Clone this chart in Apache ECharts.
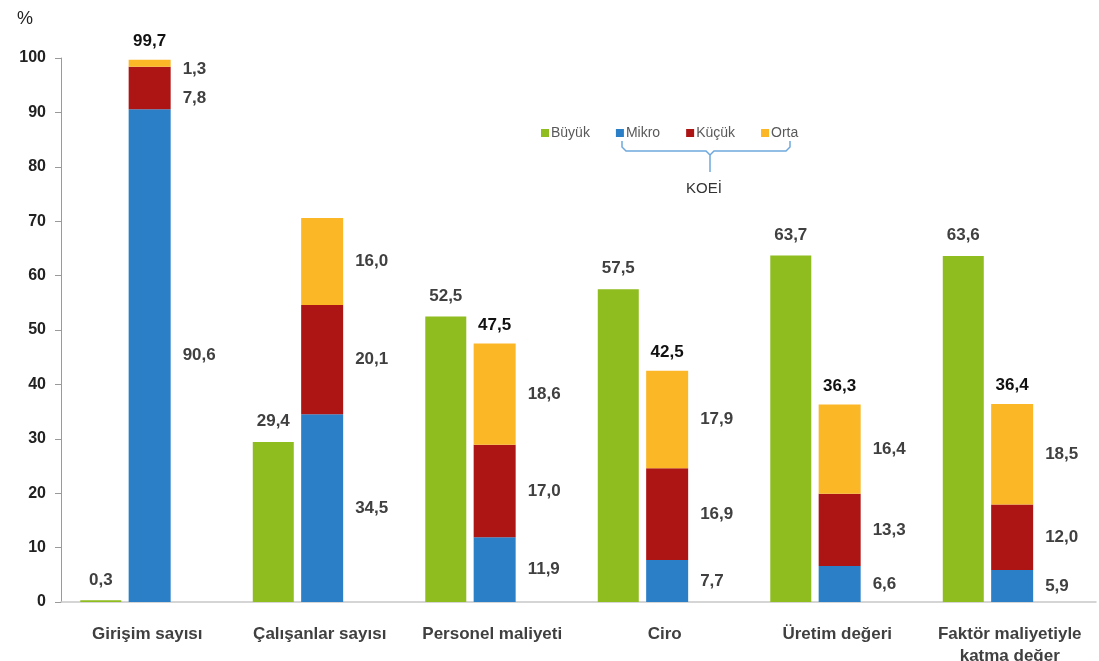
<!DOCTYPE html>
<html><head><meta charset="utf-8">
<script src="https://cdn.jsdelivr.net/npm/echarts@6/dist/echarts.min.js"></script>
<style>html,body{margin:0;padding:0;background:#fff}#c{width:1099px;height:661px}</style>
</head><body><div id="c"></div>
<script>
const categories = ['Girişim sayısı', 'Çalışanlar sayısı', 'Personel maliyeti', 'Ciro', 'Üretim değeri', 'Faktör maliyetiyle\nkatma değer'];
const buyuk = [0.3, 29.4, 52.5, 57.5, 63.7, 63.6];
const mikro = [90.6, 34.5, 11.9, 7.7, 6.6, 5.9];
const kucuk = [7.8, 20.1, 17.0, 16.9, 13.3, 12.0];
const orta = [1.3, 16.0, 18.6, 17.9, 16.4, 18.5];
const koeiTotals = [99.7, null, 47.5, 42.5, 36.3, 36.4];
const yTicks = [0, 10, 20, 30, 40, 50, 60, 70, 80, 90, 100];

const fmt = v => (v == null ? '' : v.toFixed(1).replace('.', ','));
const labelColor = '#404040';
const font = 'Liberation Sans, Arial, sans-serif';

const chart = echarts.init(document.getElementById('c'));
const segLabel = {
  show: true, position: 'right', distance: 12, color: labelColor,
  fontWeight: 'bold', fontSize: 17, fontFamily: font,
  formatter: p => fmt(p.value)
};
function segData(arr, firstOffset) {
  return arr.map((v, i) => (i === 0 && firstOffset) ? { value: v, label: { offset: [0, firstOffset] } } : v);
}
chart.setOption({
  animation: false,
  grid: { left: 61, right: 3, top: 58, bottom: 59, containLabel: false, outerBoundsMode: 'none' },
  legend: {
    data: ['Büyük', 'Mikro', 'Küçük', 'Orta'],
    left: 536, top: 121, itemWidth: 8, itemHeight: 8, itemGap: 26, icon: 'rect',
    textStyle: { fontSize: 14, color: '#595959', fontFamily: font, padding: [0, 0, 0, -3] }
  },
  xAxis: {
    type: 'category', data: categories,
    axisLine: { lineStyle: { color: '#c8c8c8', width: 1.5 } },
    axisTick: { show: false },
    axisLabel: { color: labelColor, fontWeight: 'bold', fontSize: 17, fontFamily: font, margin: 21, lineHeight: 22, interval: 0 }
  },
  yAxis: {
    type: 'value', min: 0, max: 100, interval: 10,
    axisLine: { show: true, lineStyle: { color: '#9a9a9a' } },
    axisTick: { show: true, length: 6, lineStyle: { color: '#9a9a9a' } },
    splitLine: { show: false },
    axisLabel: { color: '#222', fontWeight: 'bold', fontSize: 16, fontFamily: font, margin: 15,
      formatter: v => yTicks.includes(v) ? String(v) : '' }
  },
  graphic: [
    { type: 'text', left: 17, top: 10, style: { text: '%', fontSize: 18, fill: '#222', fontFamily: font } },
    { type: 'polyline', shape: { points: [[622, 141], [622, 147], [626, 151], [706, 151], [710, 155], [710, 172]] },
      style: { stroke: '#6fa8dc', lineWidth: 1.5, fill: null } },
    { type: 'polyline', shape: { points: [[710, 155], [714, 151], [786, 151], [790, 147], [790, 141]] },
      style: { stroke: '#6fa8dc', lineWidth: 1.5, fill: null } },
    { type: 'text', left: 686, top: 181, style: { text: 'KOEİ', fontSize: 15, fill: '#333', fontFamily: font } }
  ],
  series: [
    { name: 'Büyük', type: 'bar', data: buyuk, barWidth: 41, barGap: '18%',
      itemStyle: { color: '#8fbc1f' },
      label: { show: true, position: 'top', distance: 12, color: labelColor, fontWeight: 'bold', fontSize: 17, fontFamily: font, formatter: p => fmt(p.value) } },
    { name: 'Mikro', type: 'bar', stack: 'k', data: mikro, barWidth: 42, itemStyle: { color: '#2a7fc6' }, label: segLabel },
    { name: 'Küçük', type: 'bar', stack: 'k', data: segData(kucuk, 10), barWidth: 42, itemStyle: { color: '#ad1515' }, label: segLabel },
    { name: 'Orta', type: 'bar', stack: 'k', data: segData(orta, 6), barWidth: 42, itemStyle: { color: '#fbb726' }, label: segLabel },
    { name: 'KOEİ', type: 'bar', stack: 'k', data: koeiTotals.map(() => 0), barWidth: 42,
      itemStyle: { color: 'transparent' },
      label: { show: true, position: 'top', distance: 10, color: '#111', fontWeight: 'bold', fontSize: 17, fontFamily: font,
        formatter: p => fmt(koeiTotals[p.dataIndex]) } },
    { name: 'spacer', type: 'bar', data: categories.map(() => null), barWidth: 36 }
  ]
});
</script></body></html>
